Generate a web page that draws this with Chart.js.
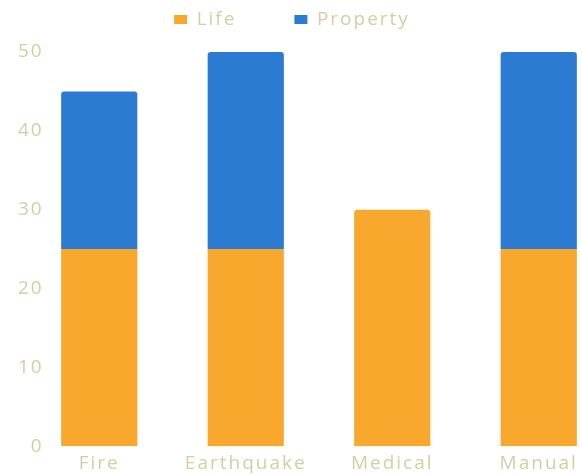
<!DOCTYPE html>
<html>
<head>
<meta charset="utf-8">
<script src="https://cdn.jsdelivr.net/npm/chart.js@4/dist/chart.umd.min.js"></script>
<style>
    html, body { margin: 0; padding: 0; background: #ffffff; overflow: hidden; }
    #wrap { position: relative; width: 640px; height: 475px; margin-left: -28px; }
</style>
</head>
<body>
<div id="wrap"><canvas id="chart"></canvas></div>
<script>
// Chart data
const categories = ['Fire', 'Earthquake', 'Medical', 'Manual'];
const lifeValues = [25, 25, 30, 25];
const propertyValues = [20, 25, 0, 25];
const yTicks = [0, 10, 20, 30, 40, 50];

const textColor = '#d6cea0';
const lifeColor = '#f7a82d';
const propertyColor = '#2b7bd3';
const font = { family: 'Open Sans', size: 19 };

// Round the top of the life bar only when nothing sits on it
const lifeRadius = ctx => (propertyValues[ctx.dataIndex] ? 0 : 3);

// The reference text is a little spread out, canvas resets it on resize
const spacing = {
    id: 'spacing',
    beforeUpdate: chart => { chart.ctx.letterSpacing = '2px'; },
    beforeDraw: chart => { chart.ctx.letterSpacing = '2px'; }
};

new Chart(document.getElementById('chart').getContext('2d'), {
    type: 'bar',
    plugins: [spacing],
    data: {
        labels: categories,
        datasets: [
            {
                label: 'Life',
                data: lifeValues,
                backgroundColor: lifeColor,
                borderRadius: lifeRadius,
                borderSkipped: 'bottom',
            },
            {
                label: 'Property',
                data: propertyValues,
                backgroundColor: propertyColor,
                borderRadius: 3,
                borderSkipped: 'bottom',
            }
        ]
    },
    options: {
        responsive: true,
        maintainAspectRatio: false,
        animation: false,
        layout: { padding: { left: 0, right: 0, top: -48, bottom: -6 } },
        datasets: {
            bar: { categoryPercentage: 1, barPercentage: 0.52 }
        },
        plugins: {
            legend: {
                position: 'top',
                labels: {
                    color: textColor,
                    boxWidth: 13,
                    boxHeight: 9,
                    padding: 58,
                    font: font
                }
            },
            // empty spacer between the legend and the plot
            subtitle: {
                display: true,
                text: ' ',
                weight: 500,
                font: { size: 1, lineHeight: 1 },
                padding: 6
            },
            tooltip: { enabled: false }
        },
        scales: {
            x: {
                stacked: true,
                grid: { display: false, drawTicks: false },
                border: { display: false },
                ticks: {
                    color: textColor,
                    padding: 6,
                    font: font
                }
            },
            y: {
                stacked: true,
                min: 0,
                max: 50,
                // tick length only reserves room left of the bars, labels sit inside
                grid: { display: false, tickLength: 70 },
                border: { display: false },
                afterBuildTicks: axis => {
                    axis.ticks = yTicks.map(v => ({ value: v }));
                },
                ticks: {
                    mirror: true,
                    crossAlign: 'far',
                    padding: -8,
                    color: textColor,
                    font: font
                }
            }
        }
    }
});
</script>
</body>
</html>
